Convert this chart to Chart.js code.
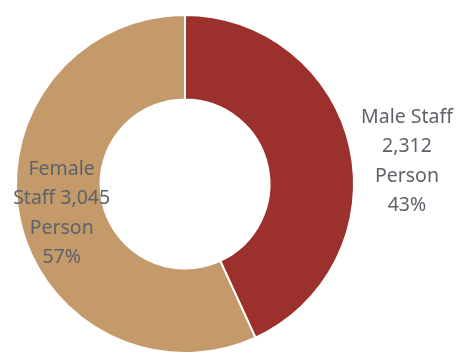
<!DOCTYPE html>
<html>
<head>
<meta charset="utf-8">
<script src="https://cdn.jsdelivr.net/npm/chart.js@4/dist/chart.umd.min.js"></script>
<style>
  html, body { margin: 0; padding: 0; background: #ffffff; overflow: hidden; }
  #wrap { position: relative; width: 458px; height: 360px; }
</style>
</head>
<body>
<div id="wrap"><canvas id="chart"></canvas></div>
<script>
// Staff headcount by gender
const categories = ['Male Staff', 'Female Staff'];
const headcount = [2312, 3045];
const shares = [43, 57];
const unit = 'Person';
const sliceColors = ['#9C302C', '#C49A6B'];

// Label text for each slice, split across lines as printed
const labelLines = [
  [categories[0], headcount[0].toLocaleString('en-US'), unit, shares[0] + '%'],
  ['Female', 'Staff ' + headcount[1].toLocaleString('en-US'), unit, shares[1] + '%']
];

// Draws the multi-line slice labels: inside the ring or just outside it
const sliceLabels = {
  id: 'sliceLabels',
  afterDatasetsDraw(chart, args, opts) {
    const { ctx } = chart;
    const meta = chart.getDatasetMeta(0);
    ctx.save();
    ctx.font = opts.font;
    ctx.fillStyle = opts.color;
    ctx.textAlign = 'center';
    ctx.textBaseline = 'middle';
    meta.data.forEach((arc, i) => {
      const p = arc.getProps(['x', 'y', 'startAngle', 'endAngle', 'innerRadius', 'outerRadius'], true);
      const place = opts.placement[i];
      const mid = (p.startAngle + p.endAngle) / 2 + (place.angleShift || 0) * Math.PI / 180;
      const r = place.outside
        ? p.outerRadius * place.radiusFactor
        : (p.innerRadius + p.outerRadius) / 2;
      const cx = p.x + Math.cos(mid) * r;
      const cy = p.y + Math.sin(mid) * r;
      const lines = labelLines[i];
      const top = cy - (lines.length - 1) * opts.lineHeight / 2;
      lines.forEach((t, k) => ctx.fillText(t, cx, top + k * opts.lineHeight));
    });
    ctx.restore();
  }
};

new Chart(document.getElementById('chart'), {
  type: 'doughnut',
  data: {
    labels: categories,
    datasets: [{
      data: headcount,
      backgroundColor: sliceColors,
      borderColor: '#ffffff',
      borderWidth: 2,
      hoverOffset: 0
    }]
  },
  options: {
    responsive: true,
    maintainAspectRatio: false,
    animation: false,
    cutout: '50%',
    layout: { padding: { left: 15, right: 103, top: 14, bottom: 6 } },
    plugins: {
      legend: { display: false },
      tooltip: { enabled: false },
      sliceLabels: {
        font: '19.5px "Noto Sans", "DejaVu Sans", sans-serif',
        color: '#5E6269',
        lineHeight: 29.5,
        placement: [
          { outside: true, radiusFactor: 1.32, angleShift: 6.5 },
          { outside: false, angleShift: -1 }
        ]
      }
    }
  },
  plugins: [sliceLabels]
});
</script>
</body>
</html>
